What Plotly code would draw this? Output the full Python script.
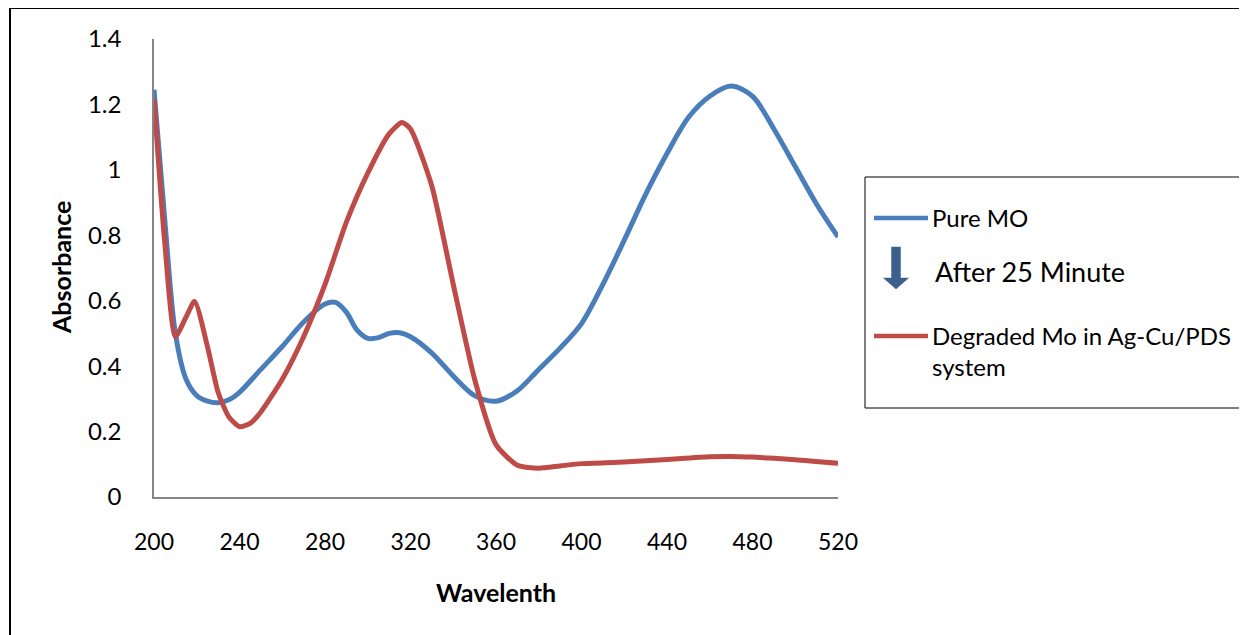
import plotly.graph_objects as go

# ---- data ----
wl_pure = [200, 205, 210, 215, 220, 225, 230, 235, 240, 250, 260, 270, 280, 285, 290, 295,
           300, 305, 310, 315, 320, 330, 340, 350, 360, 370, 380, 390, 400, 410, 420, 430,
           440, 450, 460, 470, 480, 490, 500, 510, 520]
abs_pure = [1.245, 0.85, 0.50, 0.36, 0.31, 0.293, 0.288, 0.297, 0.32, 0.39, 0.46, 0.535, 0.59,
            0.595, 0.565, 0.51, 0.485, 0.487, 0.50, 0.502, 0.49, 0.44, 0.37, 0.31, 0.293, 0.325,
            0.39, 0.455, 0.53, 0.65, 0.785, 0.925, 1.05, 1.16, 1.225, 1.256, 1.225, 1.125, 1.01,
            0.895, 0.795]

wl_deg = [200, 205, 210, 215, 219, 225, 230, 235, 240, 245, 250, 260, 270, 280, 290, 300, 310,
          316, 320, 330, 340, 350, 360, 370, 380, 390, 400, 420, 440, 460, 470, 480, 500, 520]
abs_deg = [1.215, 0.78, 0.49, 0.55, 0.598, 0.46, 0.32, 0.245, 0.215, 0.225, 0.26, 0.36, 0.49,
           0.65, 0.84, 0.99, 1.11, 1.145, 1.125, 0.95, 0.65, 0.36, 0.16, 0.097, 0.088, 0.095,
           0.102, 0.107, 0.115, 0.123, 0.124, 0.122, 0.114, 0.103]

x_ticks = [200, 240, 280, 320, 360, 400, 440, 480, 520]
y_ticks = [0, 0.2, 0.4, 0.6, 0.8, 1, 1.2, 1.4]
y_tick_text = ["0", "0.2", "0.4", "0.6", "0.8", "1", "1.2", "1.4"]

series_names = ["Pure MO", "Degraded Mo in Ag-Cu/PDS<br>system"]
arrow_label = "After 25 Minute"
x_title = "Wavelenth"
y_title = "Absorbance"

BLUE = "#4A7EBB"
RED = "#BE4B48"
FONT = "Lato"

OFF = 8  # browser body margin
W, H = 1247 - OFF, 635 - OFF
L, R, T, B = 154, 838, 39, 497  # plot area in screen pixels


def px(xp):
    return (xp - L) / (R - L)


def py(yp):
    return (B - yp) / (B - T)


fig = go.Figure()
fig.add_trace(go.Scatter(x=wl_pure, y=abs_pure, mode="lines", name="Pure MO",
                         line=dict(color=BLUE, width=5, shape="spline", smoothing=0.9)))
fig.add_trace(go.Scatter(x=wl_deg, y=abs_deg, mode="lines", name="Degraded Mo in Ag-Cu/PDS system",
                         line=dict(color=RED, width=5, shape="spline", smoothing=0.6)))

shapes = []
# outer frame (top and left edges)
shapes.append(dict(type="path", xref="paper", yref="paper",
                   path=f"M {px(10)} {py(700)} L {px(10)} {py(8)} L {px(1300)} {py(8)}",
                   line=dict(color="black", width=2)))
# legend box
shapes.append(dict(type="rect", xref="paper", yref="paper",
                   x0=px(865), x1=px(1244), y0=py(408), y1=py(177),
                   line=dict(color="black", width=1), fillcolor="white"))
# legend line samples
shapes.append(dict(type="line", xref="paper", yref="paper",
                   x0=px(874), x1=px(928), y0=py(218), y1=py(218),
                   line=dict(color=BLUE, width=4.5)))
shapes.append(dict(type="line", xref="paper", yref="paper",
                   x0=px(874), x1=px(928), y0=py(336), y1=py(336),
                   line=dict(color=RED, width=4.5)))
# down arrow
ax0, ax1, ah0, ah1 = 891.5, 900.5, 883.5, 908.5
ay0, ay1, ay2 = 247, 278, 289
arrow_path = (f"M {px(ax0)} {py(ay0)} L {px(ax1)} {py(ay0)} L {px(ax1)} {py(ay1)} "
              f"L {px(ah1)} {py(ay1)} L {px((ax0 + ax1) / 2)} {py(ay2)} L {px(ah0)} {py(ay1)} "
              f"L {px(ax0)} {py(ay1)} Z")
shapes.append(dict(type="path", xref="paper", yref="paper", path=arrow_path,
                   fillcolor="#3C5F8E", line=dict(color="#3C5F8E", width=0.5)))

annotations = [
    dict(text=series_names[0], x=px(930), y=py(218), xref="paper", yref="paper",
         xanchor="left", yanchor="middle", showarrow=False,
         font=dict(family=FONT, size=24, color="black")),
    dict(text=arrow_label, x=px(933), y=py(271), xref="paper", yref="paper",
         xanchor="left", yanchor="middle", showarrow=False,
         font=dict(family=FONT, size=27, color="black")),
    dict(text=series_names[1], x=px(930), y=py(351), xref="paper", yref="paper",
         xanchor="left", yanchor="middle", showarrow=False, align="left",
         font=dict(family=FONT, size=24, color="black")),
    dict(text=f"<b>{x_title}</b>", x=px(496), y=py(592), xref="paper", yref="paper",
         xanchor="center", yanchor="middle", showarrow=False,
         font=dict(family=FONT, size=25, color="black")),
    dict(text=f"<b>{y_title}</b>", x=px(61), y=py(268), xref="paper", yref="paper",
         xanchor="center", yanchor="middle", showarrow=False, textangle=-90,
         font=dict(family=FONT, size=25, color="black")),
]

fig.update_layout(
    width=W, height=H,
    margin=dict(l=L - OFF, r=W - (R - OFF), t=T - OFF, b=H - (B - OFF), pad=0),
    paper_bgcolor="white", plot_bgcolor="white",
    showlegend=False,
    shapes=shapes,
    annotations=annotations,
    font=dict(family=FONT, size=20, color="black"),
)
fig.update_xaxes(range=[200, 520], tickvals=x_ticks, ticks="", showgrid=False, zeroline=False,
                 showline=True, linecolor="#868686", linewidth=1.5,
                 ticklabelstandoff=24,
                 tickfont=dict(family=FONT, size=23, color="black"))
fig.update_yaxes(range=[0, 1.4], tickvals=y_ticks, ticktext=y_tick_text, ticks="", showgrid=False,
                 zeroline=False, showline=True, linecolor="#868686", linewidth=1.5,
                 ticklabelstandoff=26, tickfont=dict(family=FONT, size=24, color="black"))

fig.write_html("out.html")
